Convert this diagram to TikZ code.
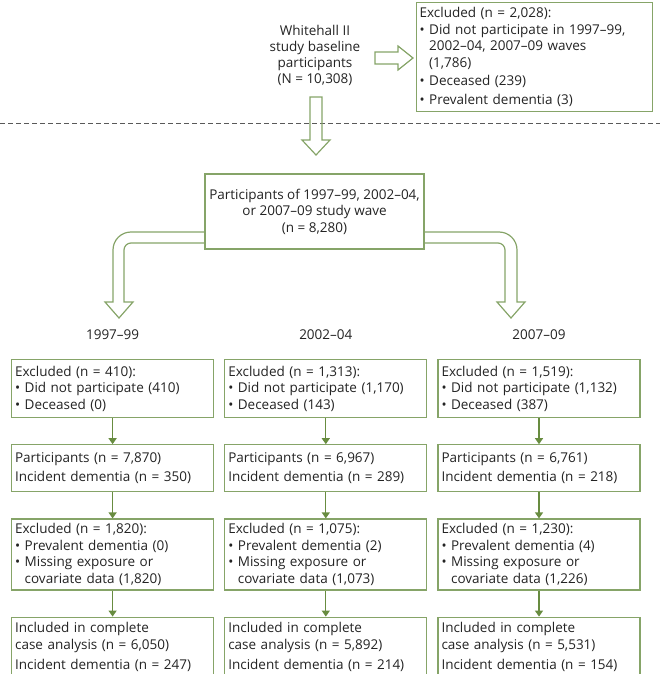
\documentclass[tikz,border=0pt]{standalone}
\usepackage{fontspec}
\setmainfont{Open Sans}
\usetikzlibrary{positioning, arrows.meta}

\definecolor{boxgreen}{RGB}{134,164,104}
\definecolor{arrowgreen}{RGB}{104,140,64}
\definecolor{txtgray}{RGB}{35,35,35}

\newcommand{\bul}{\textbullet\ }
\newcommand{\bulind}{\hphantom{\textbullet\ }}

\begin{document}
\begin{tikzpicture}[
    x=1pt, y=1pt,
    font=\fontsize{13.5}{16.5}\selectfont,
    text=txtgray,
    box/.style={rectangle, draw=boxgreen, line width=1.2pt, text width=195pt,
      inner xsep=3.5pt, inner ysep=2pt, align=left},
    excl/.style={box, minimum height=58pt},
    part/.style={box, minimum height=47pt},
    miss/.style={box, minimum height=71pt},
    incl/.style={box, minimum height=60pt},
    year/.style={inner sep=0pt},
    midbox/.style={rectangle, draw=boxgreen, line width=1.2pt, minimum width=219pt,
      minimum height=75pt, align=center},
    arrow/.style={draw=arrowgreen, line width=1.2pt, -{Triangle[width=8pt,length=6pt]}},
    hollow/.style={draw=boxgreen, line width=1.2pt, line join=miter}
]
\useasboundingbox (0,0) rectangle (660,-674);

% Nodes
\node[align=center, font=\fontsize{13.5}{16}\selectfont] (base) at (315,-55)
  {Whitehall II\\ study baseline\\ participants\\ (N = 10,308)};

\node[box, text width=230pt, inner xsep=3pt, minimum height=109pt, anchor=north west]
  (exbase) at (416,-2) {%
  Excluded (n = 2,028):\\
  \bul Did not participate in 1997–99,\\
  \bulind 2002–04, 2007–09 waves\\
  \bulind (1,786)\\[2pt]
  \bul Deceased (239)\\[2pt]
  \bul Prevalent dementia (3)
};

\node[midbox] (wave) at (314.5,-211.5) {Participants of 1997–99, 2002–04,\\
  or 2007–09 study wave\\ (n = 8,280)};

\node[excl, anchor=north west] (ex1) at (11,-359) {%
  Excluded (n = 410):\\
  \bul Did not participate (410)\\
  \bul Deceased (0)
};
\node[excl, right=10pt of ex1] (ex2) {%
  Excluded (n = 1,313):\\
  \bul Did not participate (1,170)\\
  \bul Deceased (143)
};
\node[excl, right=10pt of ex2] (ex3) {%
  Excluded (n = 1,519):\\
  \bul Did not participate (1,132)\\
  \bul Deceased (387)
};

\node[year, above=19pt of ex1] (y1) {1997–99};
\node[year, above=19pt of ex2] (y2) {2002–04};
\node[year, above=19pt of ex3] (y3) {2007–09};

\node[part, below=26pt of ex1] (pa1) {Participants (n = 7,870)\\[2pt] Incident dementia (n = 350)};
\node[part, below=26pt of ex2] (pa2) {Participants (n = 6,967)\\[2pt] Incident dementia (n = 289)};
\node[part, below=26pt of ex3] (pa3) {Participants (n = 6,761)\\[2pt] Incident dementia (n = 218)};

\node[miss, below=26pt of pa1] (mi1) {%
  Excluded (n = 1,820):\\
  \bul Prevalent dementia (0)\\
  \bul Missing exposure or\\
  \bulind covariate data (1,820)
};
\node[miss, below=26pt of pa2] (mi2) {%
  Excluded (n = 1,075):\\
  \bul Prevalent dementia (2)\\
  \bul Missing exposure or\\
  \bulind covariate data (1,073)
};
\node[miss, below=26pt of pa3] (mi3) {%
  Excluded (n = 1,230):\\
  \bul Prevalent dementia (4)\\
  \bul Missing exposure or\\
  \bulind covariate data (1,226)
};

\node[incl, below=26pt of mi1] (in1) {Included in complete\\ case analysis (n = 6,050)\\[4pt] Incident dementia (n = 247)};
\node[incl, below=26pt of mi2] (in2) {Included in complete\\ case analysis (n = 5,892)\\[4pt] Incident dementia (n = 214)};
\node[incl, below=26pt of mi3] (in3) {Included in complete\\ case analysis (n = 5,531)\\[4pt] Incident dementia (n = 154)};

% Dashed separator
\draw[draw=black!65, line width=1pt, dash pattern=on 5pt off 3pt] (0,-124) -- (660,-124);

% Block arrows
\draw[hollow] (375,-52) -- (398,-52) -- (398,-46) -- (413,-58) -- (398,-70) -- (398,-64)
  -- (375,-64) -- cycle;
\draw[hollow] (310,-97) -- (322,-97) -- (322,-140) -- (330,-140) -- (316,-155) -- (302,-140)
  -- (310,-140) -- cycle;
\draw[hollow] (205,-232) -- (131,-232) arc[start angle=90, end angle=180, radius=18]
  -- (113,-302) -- (105,-302) -- (119,-318) -- (133,-302) -- (124,-302)
  -- (124,-250) arc[start angle=180, end angle=90, radius=7] -- (205,-243);
\draw[hollow] (424,-232) -- (499,-232) arc[start angle=90, end angle=0, radius=18]
  -- (517,-302) -- (525,-302) -- (511,-318) -- (497,-302) -- (505,-302)
  -- (505,-250) arc[start angle=0, end angle=90, radius=7] -- (424,-243);

% Arrows
\foreach \c in {1,2,3} {
  \draw[arrow] (ex\c) -- (pa\c);
  \draw[arrow] (pa\c) -- (mi\c);
  \draw[arrow] (mi\c) -- (in\c);
}

\end{tikzpicture}
\end{document}
